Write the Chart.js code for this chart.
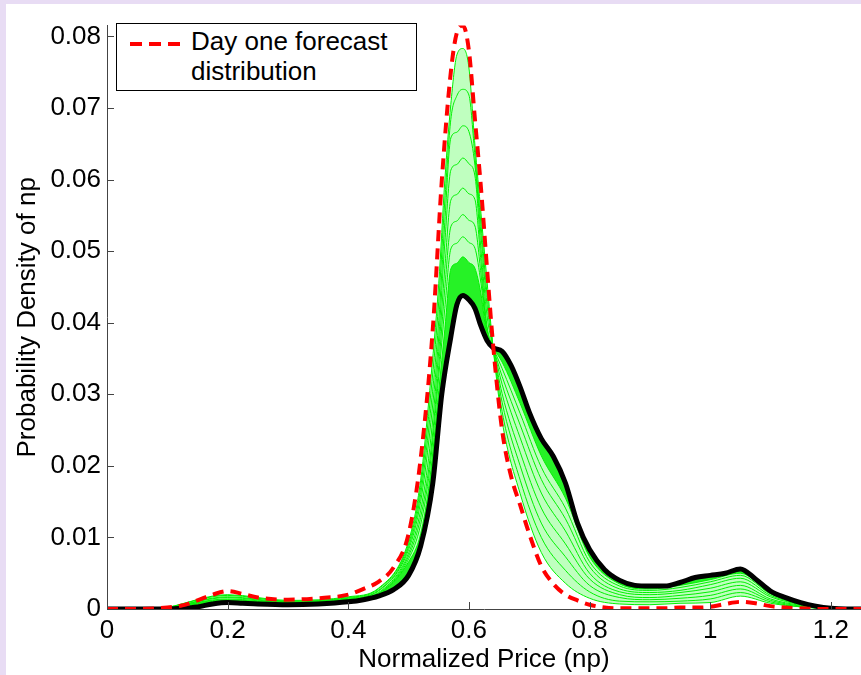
<!DOCTYPE html>
<html>
<head>
<meta charset="utf-8">
<script src="https://cdn.jsdelivr.net/npm/chart.js@4.4.1/dist/chart.umd.min.js"></script>
<style>
  html, body { margin: 0; padding: 0; }
  body { width: 861px; height: 675px; background: #e8dcf4; position: relative; overflow: hidden; font-family: "Liberation Sans", Arial, sans-serif; }
  #frame { position: absolute; left: 6px; top: 4px; width: 855px; height: 671px; background: #fff; }
  #legend { position: absolute; left: 110px; top: 19px; width: 301px; height: 68px; box-sizing: border-box; border: 1.5px solid #000; background: #fff; }
  #legend svg { position: absolute; left: 13px; top: 17px; }
  #legend .txt { position: absolute; left: 74px; top: 2px; font-size: 26px; line-height: 30px; color: #000; }
</style>
</head>
<body>
<div id="frame">
  <canvas id="chart" width="855" height="671"></canvas>
  <div id="legend">
    <svg width="50" height="6"><line x1="0" y1="3" x2="50" y2="3" stroke="#ff0000" stroke-width="4" stroke-dasharray="12 7"/></svg>
    <div class="txt">Day one forecast<br>distribution</div>
  </div>
</div>
<script>
// Normalized price grid used by the red and black curves
const priceGrid = [0, 0.05, 0.1, 0.125, 0.15, 0.175, 0.2, 0.225, 0.25, 0.3, 0.35, 0.4, 0.425, 0.45, 0.475,
  0.5, 0.52, 0.54, 0.555, 0.57, 0.58, 0.59, 0.6, 0.61, 0.62, 0.63, 0.64, 0.655, 0.67, 0.685, 0.7,
  0.72, 0.74, 0.76, 0.78, 0.8, 0.825, 0.85, 0.875, 0.9, 0.925, 0.95, 0.975, 1.0, 1.025, 1.05,
  1.075, 1.1, 1.125, 1.15, 1.175, 1.2, 1.225, 1.25];

// Day one forecast distribution (red dashed)
const dayOneDensity = [0, 0, 0.0002, 0.0005, 0.0012, 0.002, 0.0025, 0.0021, 0.0016, 0.0013, 0.0015, 0.002, 0.0028, 0.0038, 0.0058,
  0.0105, 0.021, 0.039, 0.0598, 0.075, 0.0805, 0.0815, 0.078, 0.0684, 0.0588, 0.0476, 0.037, 0.025, 0.0185, 0.0145, 0.0105,
  0.006, 0.0035, 0.002, 0.0012, 0.0006, 0.0002, 0.0001, 0.0001, 0.0001, 0.0001, 0.0002, 0.0002, 0.0003, 0.0007, 0.001,
  0.0008, 0.0004, 0.0002, 0.0001, 0, 0, 0, 0];

// Final distribution (black)
const finalDensity = [0, 0, 0, 0.0001, 0.0003, 0.0007, 0.0009, 0.0008, 0.0007, 0.0006, 0.0007, 0.001, 0.0013, 0.0018, 0.0027,
  0.0047, 0.0088, 0.0175, 0.030, 0.038, 0.0425, 0.0438, 0.0432, 0.042, 0.0395, 0.0375, 0.0365, 0.036, 0.034, 0.031, 0.0275,
  0.0238, 0.0213, 0.0176, 0.012, 0.0083, 0.0055, 0.004, 0.0033, 0.0032, 0.0032, 0.0037, 0.0044, 0.0047, 0.005, 0.0056,
  0.0042, 0.0025, 0.0016, 0.0009, 0.0004, 0.0001, 0, 0];

// Intermediate day curves (green), read on a coarser grid, highest peak first
const greenGrid = [0.1, 0.2, 0.3, 0.4, 0.45, 0.5, 0.52, 0.535, 0.55, 0.56, 0.57, 0.58, 0.59, 0.6, 0.61, 0.62,
  0.63, 0.64, 0.655, 0.685, 0.72, 0.76, 0.8, 0.85, 0.9, 0.95, 1.0, 1.05, 1.1, 1.15, 1.2];
const green1 = [0.0002, 0.002, 0.0012, 0.0017, 0.0029, 0.0095, 0.018, 0.0305, 0.0455, 0.0598, 0.0705, 0.0774, 0.0783, 0.0756, 0.0648, 0.0553,
  0.0458, 0.0366, 0.0263, 0.0161, 0.0079, 0.0036, 0.0015, 0.0007, 0.0006, 0.0008, 0.0009, 0.0018, 0.0008, 0.0003, 0];
const green2 = [0.0002, 0.0019, 0.0011, 0.0016, 0.0028, 0.0091, 0.017, 0.0285, 0.043, 0.057, 0.0684, 0.0717, 0.0726, 0.0718, 0.0632, 0.0537,
  0.044, 0.0366, 0.0276, 0.018, 0.01, 0.0054, 0.0024, 0.0011, 0.001, 0.0011, 0.0014, 0.0023, 0.001, 0.0003, 0];
const green3 = [0.0001, 0.0017, 0.001, 0.0015, 0.0026, 0.0087, 0.016, 0.0265, 0.0403, 0.054, 0.0658, 0.0666, 0.0675, 0.0667, 0.062, 0.0522,
  0.0425, 0.0366, 0.0289, 0.02, 0.012, 0.0073, 0.0033, 0.0016, 0.0013, 0.0015, 0.0019, 0.0028, 0.0012, 0.0004, 0];
const green4 = [0.0001, 0.0016, 0.0009, 0.0014, 0.0025, 0.0083, 0.015, 0.0246, 0.038, 0.0511, 0.0613, 0.0621, 0.063, 0.0622, 0.0605, 0.0502,
  0.041, 0.0365, 0.0301, 0.0219, 0.0141, 0.0091, 0.0042, 0.002, 0.0016, 0.0019, 0.0024, 0.0033, 0.0014, 0.0005, 0];
const green5 = [0.0001, 0.0014, 0.0009, 0.0013, 0.0023, 0.0078, 0.0138, 0.0224, 0.036, 0.0476, 0.0571, 0.0579, 0.0588, 0.058, 0.0572, 0.0485,
  0.0395, 0.0365, 0.0314, 0.0239, 0.0162, 0.0109, 0.005, 0.0024, 0.002, 0.0023, 0.0029, 0.0038, 0.0017, 0.0006, 0.0001];
const green6 = [0.0001, 0.0013, 0.0008, 0.0013, 0.0022, 0.0074, 0.0128, 0.0207, 0.034, 0.0448, 0.0534, 0.0542, 0.0551, 0.0543, 0.0535, 0.0468,
  0.039, 0.0365, 0.0325, 0.0257, 0.0181, 0.0126, 0.0059, 0.0028, 0.0023, 0.0026, 0.0034, 0.0043, 0.0019, 0.0007, 0.0001];
const green7 = [0, 0.0012, 0.0007, 0.0012, 0.0021, 0.007, 0.0118, 0.0195, 0.0325, 0.042, 0.0503, 0.0511, 0.052, 0.0512, 0.0504, 0.0455,
  0.0385, 0.0365, 0.0336, 0.0273, 0.0198, 0.0141, 0.0066, 0.0032, 0.0026, 0.003, 0.0038, 0.0047, 0.0021, 0.0007, 0.0001];
const green8 = [0, 0.0011, 0.0007, 0.0011, 0.002, 0.0066, 0.0105, 0.018, 0.0305, 0.039, 0.0475, 0.0483, 0.0492, 0.0484, 0.0476, 0.044,
  0.038, 0.0365, 0.0345, 0.0287, 0.0214, 0.0155, 0.0073, 0.0035, 0.0028, 0.0033, 0.0041, 0.005, 0.0022, 0.0008, 0.0001];

// Axis ticks
const xTicks = [0, 0.2, 0.4, 0.6, 0.8, 1, 1.2];
const xTickLabels = ['0', '0.2', '0.4', '0.6', '0.8', '1', '1.2'];
const yTicks = [0, 0.01, 0.02, 0.03, 0.04, 0.05, 0.06, 0.07, 0.08];
const yTickLabels = ['0', '0.01', '0.02', '0.03', '0.04', '0.05', '0.06', '0.07', '0.08'];

const fontFamily = '"Liberation Sans", Arial, sans-serif';

function toPoints(xs, ys) {
    return xs.map((x, i) => ({ x: x, y: ys[i] }));
}

// MATLAB style ticks pointing into the plot
const innerTicks = {
    id: 'innerTicks',
    afterDraw(chart) {
        const { ctx, chartArea, scales } = chart;
        ctx.save();
        ctx.strokeStyle = '#444';
        ctx.lineWidth = 1;
        ctx.beginPath();
        xTicks.forEach(v => {
            const px = Math.round(scales.x.getPixelForValue(v)) + 0.5;
            ctx.moveTo(px, chartArea.bottom);
            ctx.lineTo(px, chartArea.bottom - 7);
        });
        yTicks.forEach(v => {
            const py = Math.round(scales.y.getPixelForValue(v)) + 0.5;
            ctx.moveTo(chartArea.left, py);
            ctx.lineTo(chartArea.left + 7, py);
        });
        ctx.stroke();
        ctx.restore();
    }
};

// thin green curve, optionally filling to another dataset
function greenLine(label, ys, fill) {
    return {
        label: label,
        data: toPoints(greenGrid, ys),
        borderColor: '#00f000',
        borderWidth: 1,
        pointRadius: 0,
        fill: fill || false,
        cubicInterpolationMode: 'monotone',
        order: 2
    };
}

const lightGreen = 'rgba(0, 255, 0, 0.25)';
const denseGreen = 'rgba(0, 240, 0, 0.85)';

const ctx = document.getElementById('chart').getContext('2d');
new Chart(ctx, {
    type: 'line',
    data: {
        datasets: [
            {
                label: 'Day one forecast distribution',
                data: toPoints(priceGrid, dayOneDensity),
                borderColor: '#ff0000',
                borderWidth: 4,
                borderDash: [11, 7],
                pointRadius: 0,
                fill: false,
                cubicInterpolationMode: 'monotone',
                order: 0
            },
            {
                label: 'Final',
                data: toPoints(priceGrid, finalDensity),
                borderColor: '#000000',
                borderWidth: 5,
                pointRadius: 0,
                fill: false,
                cubicInterpolationMode: 'monotone',
                order: 1
            },
            greenLine('g1', green1, { target: 9, above: lightGreen, below: lightGreen }),
            greenLine('g2', green2),
            greenLine('g3', green3),
            greenLine('g4', green4),
            greenLine('g5', green5),
            greenLine('g6', green6),
            greenLine('g7', green7),
            greenLine('g8', green8, { target: 1, above: denseGreen, below: denseGreen })
        ]
    },
    options: {
        responsive: false,
        animation: false,
        devicePixelRatio: 1,
        layout: { padding: { top: 11, right: 0, left: 0, bottom: 0 } },
        plugins: {
            legend: { display: false },
            tooltip: { enabled: false },
            filler: { drawTime: 'beforeDatasetsDraw' }
        },
        scales: {
            x: {
                type: 'linear',
                min: 0,
                max: 1.25,
                afterBuildTicks: s => { s.ticks = xTicks.map(v => ({ value: v })); },
                afterFit: s => { s.height = 66; },
                ticks: {
                    callback: (v, i) => xTickLabels[i],
                    font: { family: fontFamily, size: 26 },
                    color: '#000',
                    padding: 6,
                    maxRotation: 0,
                    autoSkip: false
                },
                grid: { display: false, drawTicks: false },
                border: { display: true, color: '#444', width: 1 },
                title: {
                    display: true,
                    text: 'Normalized Price (np)',
                    font: { family: fontFamily, size: 26 },
                    color: '#000',
                    padding: { top: 0, bottom: 0 }
                }
            },
            y: {
                type: 'linear',
                min: 0,
                max: 0.0815,
                afterBuildTicks: s => { s.ticks = yTicks.map(v => ({ value: v })); },
                afterFit: s => { s.width = 101; },
                ticks: {
                    callback: (v, i) => yTickLabels[i],
                    font: { family: fontFamily, size: 26 },
                    color: '#000',
                    padding: 6
                },
                grid: { display: false, drawTicks: false },
                border: { display: true, color: '#444', width: 1 },
                title: {
                    display: true,
                    text: 'Probability Density of np',
                    font: { family: fontFamily, size: 26 },
                    color: '#000',
                    padding: { top: 6, bottom: 0 }
                }
            }
        }
    },
    plugins: [innerTicks]
});
</script>
</body>
</html>
